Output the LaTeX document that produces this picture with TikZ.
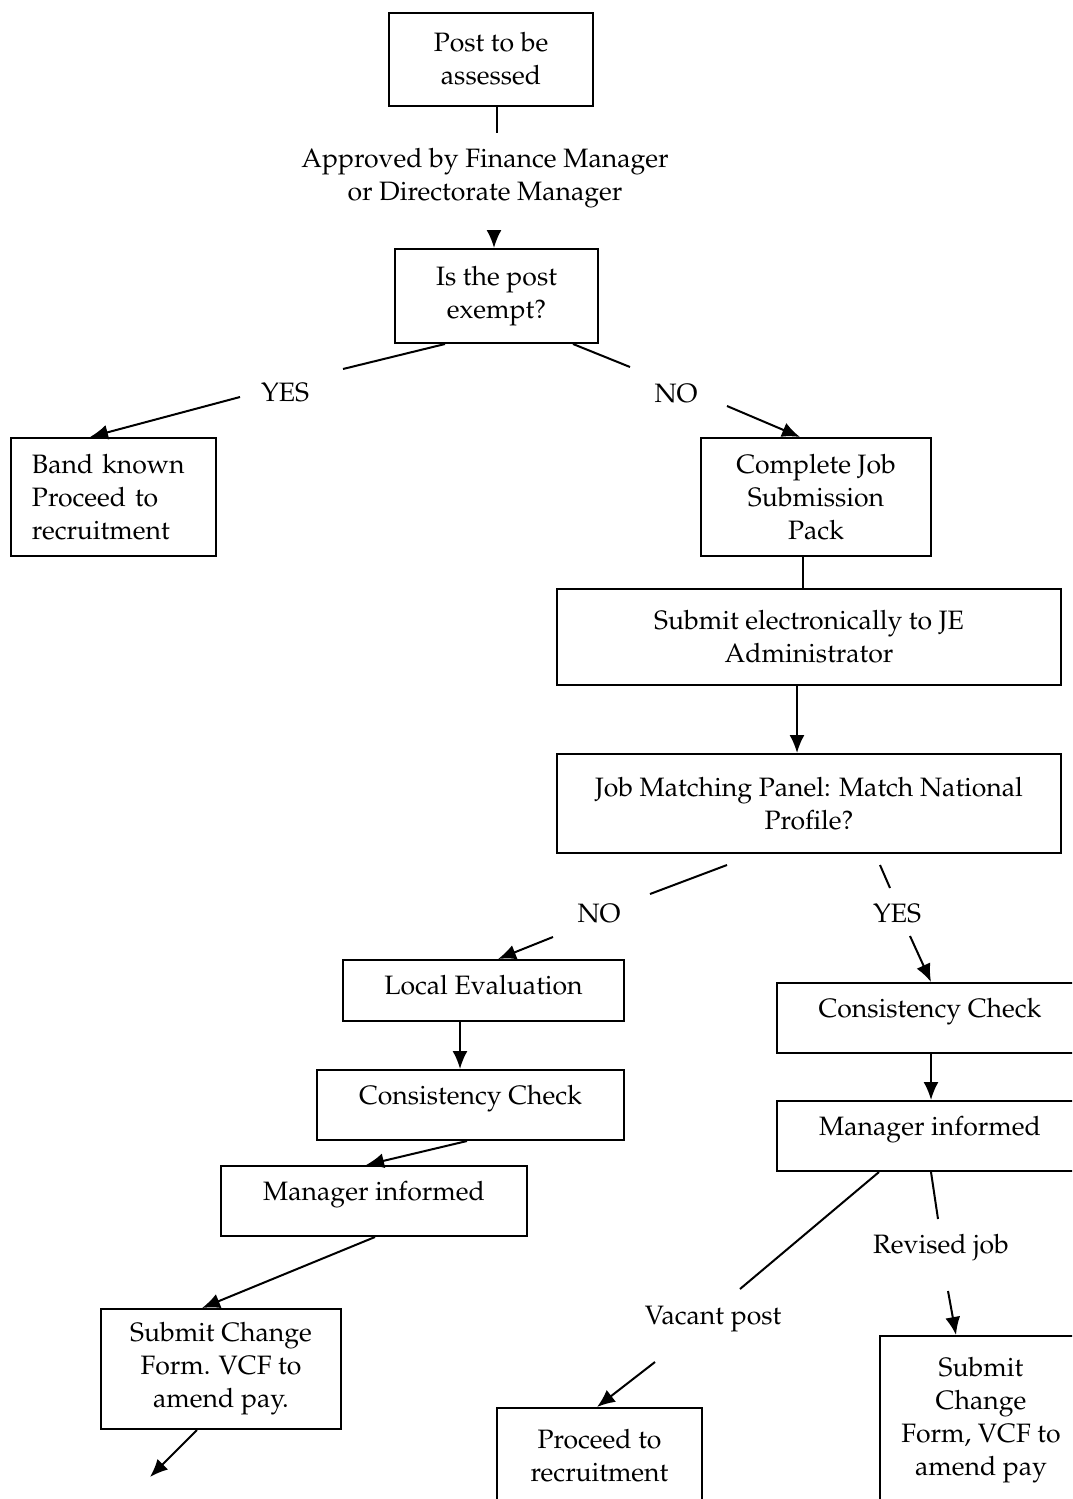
\documentclass[tikz,border=0pt]{standalone}
\usepackage[T1]{fontenc}
\usepackage{mathpazo}
\usetikzlibrary{arrows.meta}
\tikzset{
  stepbox/.style={draw, line width=1pt, rectangle, align=center, inner sep=0pt},
  onerow/.style={stepbox, text height=17pt, text depth=18pt},
  tag/.style={align=center, inner sep=0pt},
  flow/.style={line width=1pt},
  arrowflow/.style={flow, -{Latex[length=9pt,width=7.5pt]}},
}
\begin{document}
\begin{tikzpicture}[x=0.5pt, y=-0.5pt, font=\fontsize{13.3}{16.5}\selectfont]
  \useasboundingbox (0,0) rectangle (1072,1499);
  \clip (0,0) rectangle (1072,1499);

  % top of the chart
  \node[stepbox, minimum width=102pt, minimum height=46.5pt] (post) at (491,59) {Post to be\\assessed};
  \node[tag] (approved) at (485,178) {Approved by Finance Manager\\or Directorate Manager};
  \node[stepbox, minimum width=101.5pt, minimum height=47pt] (exempt) at (496.5,296) {Is the post\\exempt?};
  \node[tag] (yes1) at (285,393) {YES};
  \node[tag] (no1) at (676,394) {NO};
  \node[stepbox, minimum width=102.5pt, minimum height=59pt, align=left, text width=81.5pt] (band) at (113.5,497) {Band known\\Proceed to\\recruitment};
  \node[stepbox, minimum width=115pt, minimum height=59pt] (jsp) at (816,497) {Complete Job\\Submission\\Pack};
  \node[stepbox, minimum width=252pt, minimum height=48pt] (submit) at (809,637) {Submit electronically to JE\\Administrator};
  \node[stepbox, minimum width=252pt, minimum height=49.5pt] (match) at (809,803.5) {Job Matching Panel: Match National\\Profile?};
  \node[tag] (no2) at (599,914) {NO};
  \node[tag] (yes2) at (897,914) {YES};

  % local evaluation branch
  \node[onerow, minimum width=140.5pt, text depth=13.5pt] (local) at (483.5,990.5) {Local Evaluation};
  \node[onerow, minimum width=153.5pt] (checkL) at (470.5,1105) {Consistency Check};
  \node[onerow, minimum width=153pt] (informL) at (374,1201) {Manager informed};
  \node[stepbox, minimum width=120pt, minimum height=60pt] (changeL) at (221,1369) {Submit Change\\Form. VCF to\\amend pay.};
  \coordinate (payL) at (150,1477);

  % national profile branch
  \node[onerow, minimum width=153pt] (checkR) at (930,1018) {Consistency Check};
  \node[onerow, minimum width=153pt] (informR) at (930,1136) {Manager informed};
  \node[tag] (vacant) at (713,1319) {Vacant post};
  \node[tag] (revised) at (941,1248) {Revised job};
  \node[stepbox, minimum width=102.5pt, minimum height=48pt] (recruit) at (599.5,1456) {Proceed to\\recruitment};
  \node[stepbox, minimum width=101pt, minimum height=84pt] (changeR) at (981,1420) {Submit\\Change\\Form, VCF to\\amend pay};

  % connectors
  \draw[flow] ([xshift=3pt]post.south) -- ([shift={(12,-45)}]approved.center);
  \draw[arrowflow] ([shift={(9,52)}]approved.center) -- ([xshift=-1.25pt]exempt.north);
  \draw[flow] ([xshift=-25.75pt]exempt.south) -- ([shift={(58,-24)}]yes1.center);
  \draw[arrowflow] ([shift={(-45,4)}]yes1.center) -- ([xshift=-11.75pt]band.north);
  \draw[flow] ([xshift=38.25pt]exempt.south) -- ([shift={(-46,-27)}]no1.center);
  \draw[arrowflow] ([shift={(51,12)}]no1.center) -- ([xshift=-8pt]jsp.north);
  \draw[flow] ([xshift=-6.5pt]jsp.south) -- ([xshift=-3pt]submit.north);
  \draw[arrowflow] ([xshift=-6pt]submit.south) -- ([xshift=-6pt]match.north);
  \draw[flow] ([shift={(-82,11)}]match.south) -- ([shift={(51,-20)}]no2.center);
  \draw[arrowflow] ([shift={(-46,23)}]no2.center) -- ([xshift=7.25pt]local.north);
  \draw[flow] ([shift={(71,11)}]match.south) -- ([shift={(-7,-26)}]yes2.center);
  \draw[arrowflow] ([shift={(13,22)}]yes2.center) -- ([xshift=0.5pt]checkR.north);
  \draw[arrowflow] ([xshift=-11.75pt]local.south) -- ([xshift=-5.25pt]checkL.north);
  \draw[arrowflow] ([xshift=-1.75pt]checkL.south) -- ([xshift=-4pt]informL.north);
  \draw[arrowflow] ([xshift=0.5pt]informL.south) -- ([xshift=-9.5pt]changeL.north);
  \draw[arrowflow] ([xshift=-12pt]changeL.south) -- (payL);
  \draw[arrowflow] ([xshift=0.5pt]checkR.south) -- ([xshift=0.5pt]informR.north);
  \draw[flow] ([xshift=-25.5pt]informR.south) -- ([shift={(27,-30)}]vacant.center);
  \draw[arrowflow] ([shift={(-58,43)}]vacant.center) -- ([xshift=-1.25pt]recruit.north);
  \draw[flow] ([xshift=0.5pt]informR.south) -- ([shift={(-3,-29)}]revised.center);
  \draw[arrowflow] ([shift={(7,43)}]revised.center) -- ([xshift=-12.5pt]changeR.north);
\end{tikzpicture}
\end{document}
